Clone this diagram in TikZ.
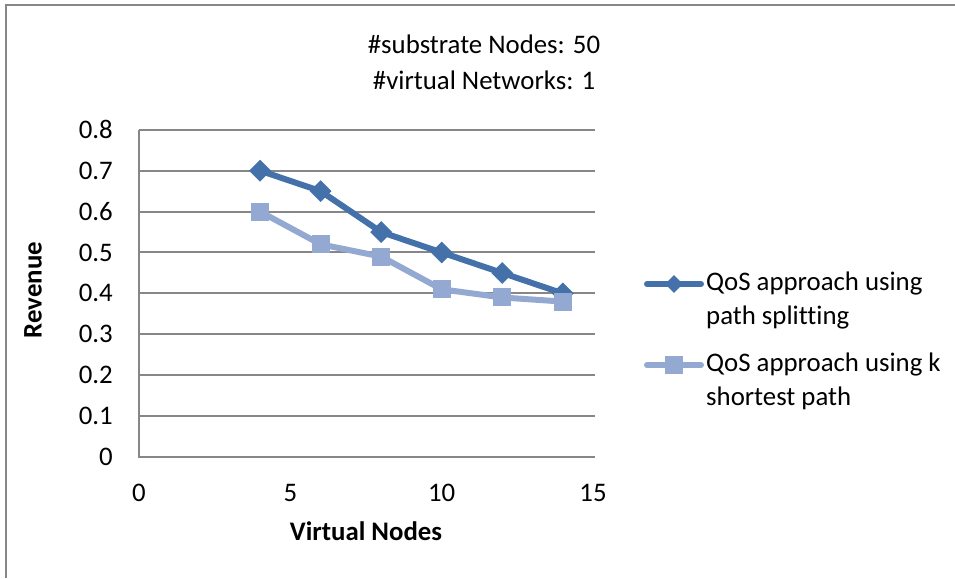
\documentclass[tikz,border=0pt]{standalone}
\usepackage{fontspec}
\setmainfont{Carlito}[Ligatures=NoCommon]
\usetikzlibrary{shapes.geometric}
\definecolor{darkser}{HTML}{4471A9}
\definecolor{lightser}{HTML}{94A9D2}
\definecolor{gridgray}{HTML}{878787}
\tikzset{
  lbl/.style={font=\fontsize{26.8}{34}\selectfont, inner sep=0pt},
  boldlbl/.style={font=\fontsize{26.8}{34}\selectfont\bfseries, inner sep=0pt},
  gridline/.style={draw=gridgray, line width=2pt},
  seriesA/.style={draw=darkser, line width=6pt, line join=round, line cap=round},
  seriesB/.style={draw=lightser, line width=6pt, line join=round, line cap=round},
  diamark/.style={diamond, aspect=1, fill=darkser, inner sep=0pt, minimum size=22pt},
  sqmark/.style={rectangle, fill=lightser, inner sep=0pt, minimum size=18pt},
}
\begin{document}
\begin{tikzpicture}[x=1pt,y=1pt]
\useasboundingbox (0,0) rectangle (955,578);
\fill[white] (0,0) rectangle (955,578);
% frame (top and left)
\coordinate (fb) at (6,0);
\coordinate (fc) at (6,573);
\coordinate (fr) at (955,573);
\draw[gridgray, line width=2pt] (fb) -- (fc) -- (fr);
% title
\node[lbl] (t1) at (484,534) {\#substrate Nodes: 50};
\node[lbl] (t2) at (484,498) {\#virtual Networks: 1};
% plot
\begin{scope}[shift={(139,121)}, x=30.27pt, y=409pt]
  \foreach \v/\n in {0.1/1,0.2/2,0.3/3,0.4/4,0.5/5,0.6/6,0.7/7,0.8/8}{
    \coordinate (gl\n) at (0,\v);
    \coordinate (gr\n) at (15.05,\v);
    \draw[gridline] (gl\n) -- (gr\n);
  }
  \coordinate (o) at (0,0);
  \coordinate (xe) at (15.05,0);
  \coordinate (ye) at (0,0.8);
  \draw[gridline] (xe) -- (o) -- (ye);
  % y tick labels
  \foreach \v in {0,0.1,0.2,0.3,0.4,0.5,0.6,0.7,0.8}{
    \node[lbl, anchor=east] (yl\v) at ([xshift=-26pt]0,\v) {\v};
  }
  % x tick labels
  \foreach \v in {0,5,10,15}{
    \node[lbl] (xl\v) at ([yshift=-36pt]\v,0) {\v};
  }
  % series
  \foreach \i/\x/\y in {1/4/0.7,2/6/0.65,3/8/0.55,4/10/0.5,5/12/0.45,6/14/0.4}{
    \coordinate (a\i) at (\x,\y);
  }
  \foreach \i/\x/\y in {1/4/0.6,2/6/0.52,3/8/0.49,4/10/0.41,5/12/0.39,6/14/0.38}{
    \coordinate (b\i) at (\x,\y);
  }
  \draw[seriesA] (a1) -- (a2) -- (a3) -- (a4) -- (a5) -- (a6);
  \foreach \i in {1,...,6}{ \node[diamark] (ma\i) at (a\i) {}; }
  \draw[seriesB] (b1) -- (b2) -- (b3) -- (b4) -- (b5) -- (b6);
  \foreach \i in {1,...,6}{ \node[sqmark] (mb\i) at (b\i) {}; }
\end{scope}
% axis titles
\node[boldlbl] (xt) at (366,47) {Virtual Nodes};
\node[boldlbl, rotate=90] (yt) at (33,288) {Revenue};
% legend
\coordinate (la1) at (647,294);
\coordinate (la2) at (701,294);
\draw[seriesA] (la1) -- (la2);
\node[diamark, minimum size=18pt] (lam) at (674,294) {};
\node[lbl, anchor=west, align=left] (ltA) at (706,277) {QoS approach using\\path splitting};
\coordinate (lb1) at (647,213);
\coordinate (lb2) at (701,213);
\draw[seriesB] (lb1) -- (lb2);
\node[sqmark] (lbm) at (674,213) {};
\node[lbl, anchor=west, align=left] (ltB) at (706,197) {QoS approach using k\\shortest path};
\end{tikzpicture}
\end{document}
